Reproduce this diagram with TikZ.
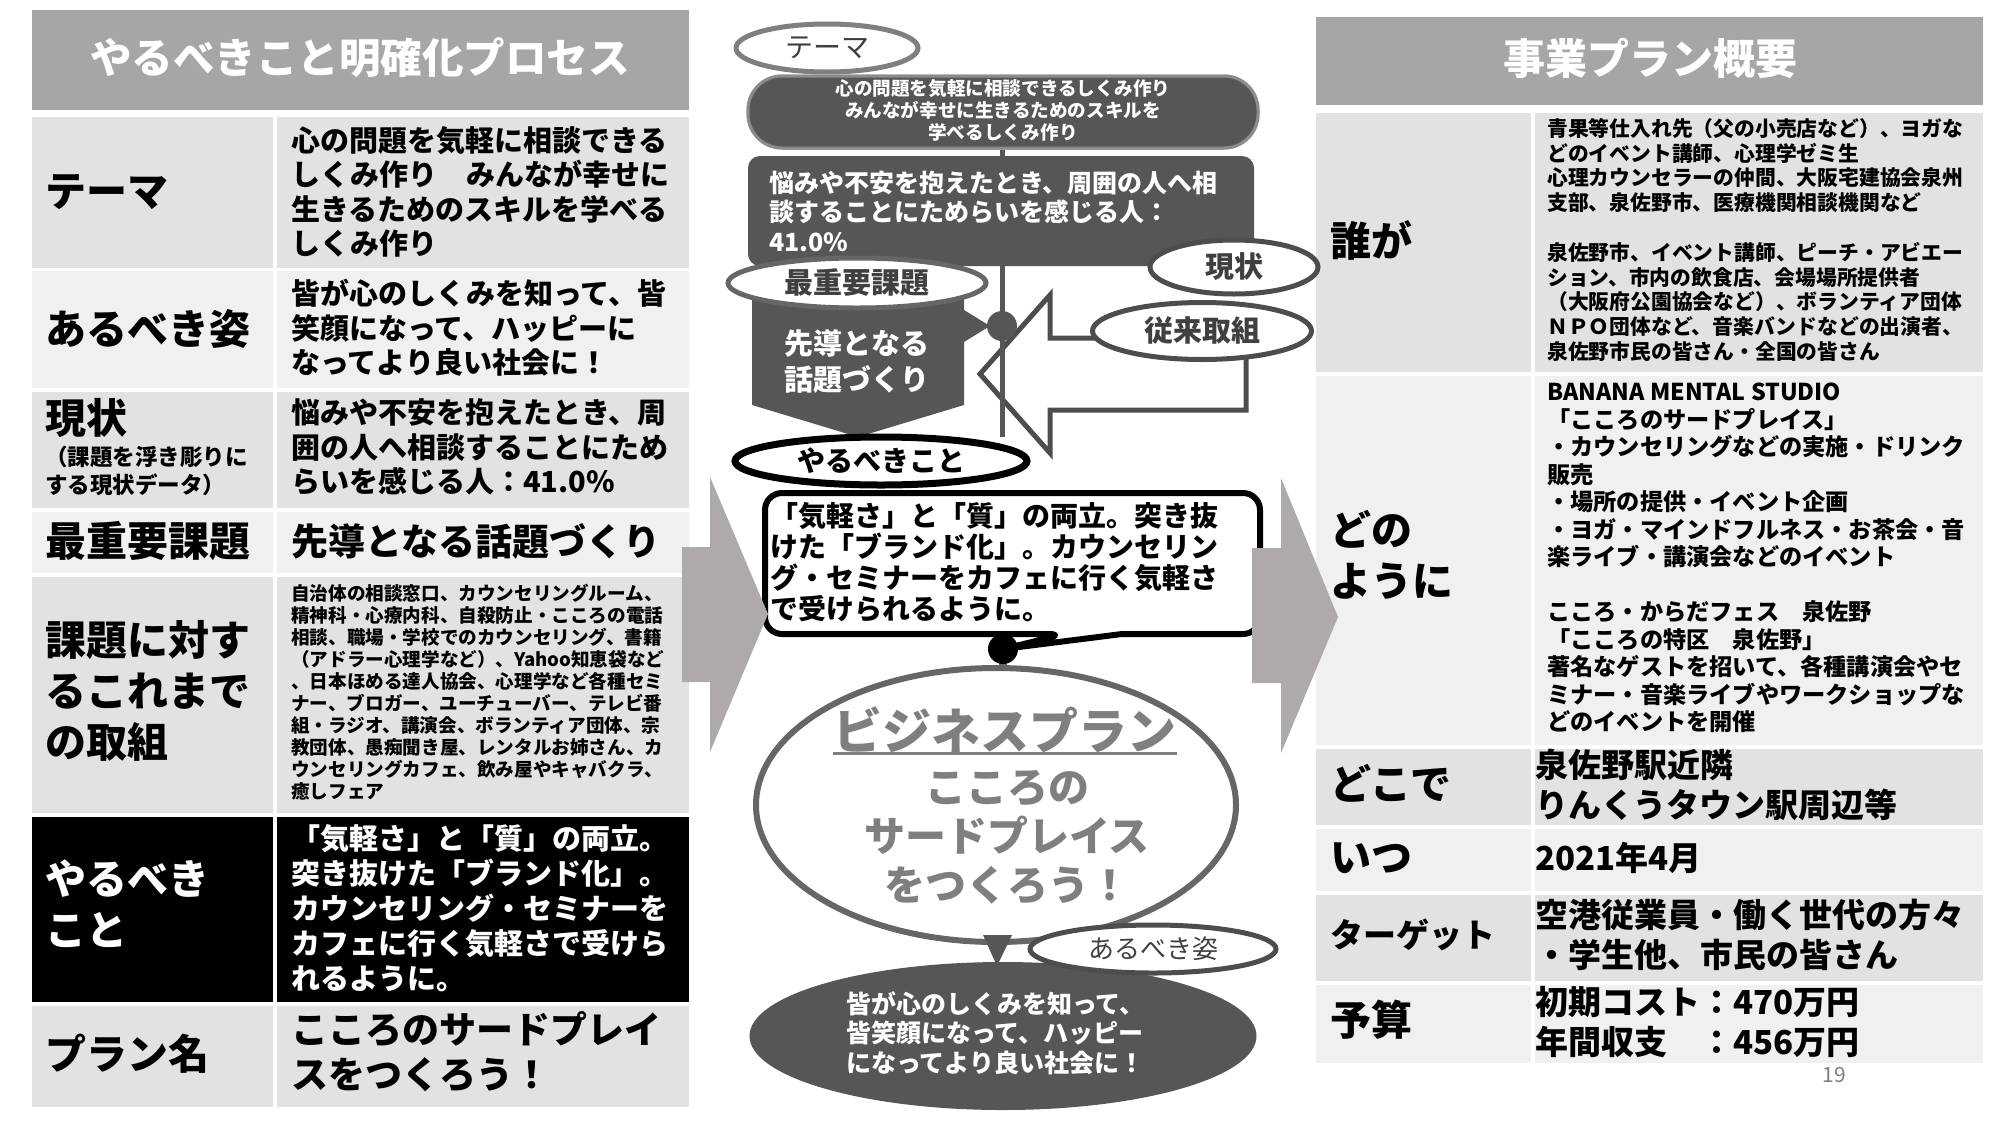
\documentclass[tikz,border=0pt]{standalone}
\usepackage{fontspec}
\setmainfont{Noto Sans CJK JP}
\usetikzlibrary{shapes.geometric}
\newcommand\myfs[2]{\fontsize{#1}{#2}\selectfont}
\definecolor{titlegray}{HTML}{A6A6A6}
\definecolor{rowD}{HTML}{E2E2E2}
\definecolor{rowL}{HTML}{F0F0F0}
\definecolor{dark}{HTML}{565656}
\definecolor{arrowgray}{HTML}{AEAAAA}
\definecolor{olA}{HTML}{7F7F7F}
\definecolor{olB}{HTML}{666666}
\definecolor{olC}{HTML}{4D4D4D}
\definecolor{txtA}{HTML}{404040}
\definecolor{txtB}{HTML}{7F7F7F}
\definecolor{pillborder}{HTML}{8C8C8C}
\begin{document}
\begin{tikzpicture}[x=1pt,y=-1pt,
  lab/.style={anchor=west, inner sep=0, align=left, font=\bfseries\myfs{41}{51}},
  val/.style={anchor=west, inner sep=0, align=left, font=\bfseries\myfs{29}{34.5}},
  ttl/.style={inner sep=0, text=white, font=\bfseries\myfs{42}{50}},
  ell/.style={ellipse, inner sep=0, fill=white, line width=5},
  etext/.style={font=\bfseries\myfs{29}{32}}
]
\useasboundingbox (0,0) rectangle (2000,1125);
\fill[white] (0,0) rectangle (2000,1125);

% ---------------- left table ----------------
\fill[titlegray] (32,10) rectangle (689,110);
\node[ttl, font=\bfseries\myfs{41.5}{50}] (ltitle) at (360,58) {やるべきこと明確化プロセス};
\foreach \ya/\yb/\c in {117/268/rowD, 271/388/rowL, 392/508/rowD, 512/573/rowL, 577/813/rowD, 817/1002/black, 1006/1107/rowD}{
  \fill[\c] (32,\ya) rectangle (273,\yb);
  \fill[\c] (277,\ya) rectangle (689,\yb);
}
\node[lab] (l1) at (45,192) {テーマ};
\node[val] (v1) at (291,192) {心の問題を気軽に相談できる\\しくみ作り　みんなが幸せに\\生きるためのスキルを学べる\\しくみ作り};
\node[lab] (l2) at (45,329) {あるべき姿};
\node[val] (v2) at (291,328) {皆が心のしくみを知って、皆\\笑顔になって、ハッピーに\\なってより良い社会に！};
\node[lab] (l3) at (45,418) {現状};
\node[anchor=west, inner sep=0, align=left, font=\bfseries\myfs{22.5}{28}] (l3b) at (45,471) {（課題を浮き彫りに\\する現状データ）};
\node[val] (v3) at (291,447) {悩みや不安を抱えたとき、周\\囲の人へ相談することにため\\らいを感じる人：41.0\%};
\node[lab] (l4) at (45,541) {最重要課題};
\node[val, font=\bfseries\myfs{37}{44}] (v4) at (291,541) {先導となる話題づくり};
\node[lab] (l5) at (45,691) {課題に対す\\るこれまで\\の取組};
\node[val, font=\bfseries\myfs{18.6}{22}] (v5) at (291,692) {自治体の相談窓口、カウンセリングルーム、\\精神科・心療内科、自殺防止・こころの電話\\相談、職場・学校でのカウンセリング、書籍\\（アドラー心理学など）、Yahoo知恵袋など\\、日本ほめる達人協会、心理学など各種セミ\\ナー、ブロガー、ユーチューバー、テレビ番\\組・ラジオ、講演会、ボランティア団体、宗\\教団体、愚痴聞き屋、レンタルお姉さん、カ\\ウンセリングカフェ、飲み屋やキャバクラ、\\癒しフェア};
\node[lab, text=white] (l6) at (45,904) {やるべき\\こと};
\node[val, text=white, font=\bfseries\myfs{29}{35}] (v6) at (291,908) {「気軽さ」と「質」の両立。\\突き抜けた「ブランド化」。\\カウンセリング・セミナーを\\カフェに行く気軽さで受けら\\れるように。};
\node[lab] (l7) at (45,1054) {プラン名};
\node[val, font=\bfseries\myfs{37}{45}] (v7) at (291,1052) {こころのサードプレイ\\スをつくろう！};

% ---------------- right table ----------------
\fill[titlegray] (1316,17) rectangle (1983,105);
\node[ttl] (rtitle) at (1650,58) {事業プラン概要};
\foreach \ya/\yb/\c in {113/372/rowD, 376/745/rowL, 749/825/rowD, 829/891/rowL, 895/981/rowD, 985/1063/rowL}{
  \fill[\c] (1316,\ya) rectangle (1531,\yb);
  \fill[\c] (1535,\ya) rectangle (1983,\yb);
}
\node[lab] (r1) at (1330,240) {誰が};
\node[val, font=\bfseries\myfs{20.8}{24.8}] (rv1) at (1547,240) {青果等仕入れ先（父の小売店など）、ヨガな\\どのイベント講師、心理学ゼミ生\\心理カウンセラーの仲間、大阪宅建協会泉州\\支部、泉佐野市、医療機関相談機関など\\\mbox{}\\泉佐野市、イベント講師、ピーチ・アビエー\\ション、市内の飲食店、会場場所提供者\\（大阪府公園協会など）、ボランティア団体\\ＮＰＯ団体など、音楽バンドなどの出演者、\\泉佐野市民の皆さん・全国の皆さん};
\node[lab] (r2) at (1330,555) {どの\\ように};
\node[val, font=\bfseries\myfs{23.2}{27.5}] (rv2) at (1547,558) {BANANA MENTAL STUDIO\\「こころのサードプレイス」\\・カウンセリングなどの実施・ドリンク\\販売\\・場所の提供・イベント企画\\・ヨガ・マインドフルネス・お茶会・音\\楽ライブ・講演会などのイベント\\\mbox{}\\こころ・からだフェス　泉佐野\\「こころの特区　泉佐野」\\著名なゲストを招いて、各種講演会やセ\\ミナー・音楽ライブやワークショップな\\どのイベントを開催};
\node[lab] (r3) at (1330,783) {どこで};
\node[val, font=\bfseries\myfs{33}{40}] (rv3) at (1535,785) {泉佐野駅近隣\\りんくうタウン駅周辺等};
\node[lab] (r4) at (1330,858) {いつ};
\node[val, font=\bfseries\myfs{33}{40}] (rv4) at (1535,858) {2021年4月};
\node[lab, font=\bfseries\myfs{33}{40}] (r5) at (1330,935) {ターゲット};
\node[val, font=\bfseries\myfs{33}{40}] (rv5) at (1535,935) {空港従業員・働く世代の方々\\・学生他、市民の皆さん};
\node[lab] (r6) at (1330,1020) {予算};
\node[val, font=\bfseries\myfs{33}{40}] (rv6) at (1535,1022) {初期コスト：470万円\\年間収支　：456万円};
\node[inner sep=0, text=olA, font=\myfs{21}{24}] (pg) at (1834,1075) {19};

% ---------------- center flow ----------------
\node[ell, draw=olA, minimum width=182, minimum height=48, text=txtA, font=\myfs{28}{30}] (eth) at (827,48) {テーマ};
% pentagon with notch
\fill[dark] (752,285) -- (964,285) -- (964,310) -- (990,326) -- (964,342) -- (964,405) -- (858,437) -- (752,405) -- cycle;
% white outlined arrow
\draw[line width=5, draw=olC, fill=white, line join=miter] (980,374) -- (1050,295) -- (1050,338) -- (1246,338) -- (1246,410) -- (1050,410) -- (1050,453) -- cycle;
% vertical flow line
\coordinate (jc) at (1002,326);
\node[rectangle, rounded corners=34, fill=dark, draw=pillborder, line width=3, minimum width=510, minimum height=72] (pill) at (1003,112) {};
\node[ellipse, minimum width=292, minimum height=48, inner sep=0] (yarupos) at (881,461) {};
\draw[dark, line width=5] (pill.south -| jc) -- (jc |- yarupos.north);
\node[rectangle, rounded corners=34, fill=dark, draw=pillborder, line width=3, minimum width=510, minimum height=72] (pill2) at (1003,112) {};
\node[align=center, text=white, inner sep=0, font=\bfseries\myfs{18.6}{22}] (pillt) at (1003,110) {心の問題を気軽に相談できるしくみ作り\\みんなが幸せに生きるためのスキルを\\学べるしくみ作り};
\node[rectangle, rounded corners=12, fill=dark, minimum width=506, minimum height=110] (nayami) at (1001,211) {};
\node[anchor=west, align=left, text=white, inner sep=0, font=\bfseries\myfs{25}{29.5}] (nayamit) at (769,211) {悩みや不安を抱えたとき、周囲の人へ相\\談することにためらいを感じる人：\\41.0\%};
\node[align=center, text=white, inner sep=0, font=\bfseries\myfs{29}{36}] (sendo) at (857,362) {先導となる\\話題づくり};
\node[circle, fill=dark, minimum size=30, inner sep=0] (jn) at (jc) {};
\node[ell, draw=olB, minimum width=258, minimum height=50, text=txtA, etext] (esai) at (857,283) {最重要課題};
\node[ell, draw=olC, minimum width=168, minimum height=54, text=txtA, etext] (egen) at (1234,267) {現状};
\node[ell, draw=olC, minimum width=219, minimum height=57, text=txtA, etext] (ejur) at (1202,331) {従来取組};
\node[ell, draw=black, line width=7, minimum width=292, minimum height=48, font=\bfseries\myfs{28}{30}] (yaru) at (881,461) {やるべきこと};

% business plan ellipse and goal
\node[ell, draw=olB, line width=6, minimum width=480, minimum height=274] (bigell) at (996,805) {};
\node[inner sep=0, text=txtB, font=\bfseries\myfs{49}{52}] (bp) at (1005,730) {ビジネスプラン};
\draw[txtB, line width=3] (bp.south west) -- (bp.south east);
\node[align=center, inner sep=0, text=txtB, font=\bfseries\myfs{41}{49}] (bpt) at (1007,837) {こころの\\サードプレイス\\をつくろう！};
\node[ellipse, fill=dark, minimum width=507, minimum height=148, inner sep=0] (goal) at (1003,1036) {};
\fill[dark] (983,935) -- (1012,935) -- (997,966) -- cycle;
\node[anchor=west, align=left, text=white, inner sep=0, font=\bfseries\myfs{25}{29.5}] (goalt) at (846,1033) {皆が心のしくみを知って、\\皆笑顔になって、ハッピー\\になってより良い社会に！};
\node[ell, draw=olC, minimum width=246, minimum height=48, text=txtA, font=\myfs{26}{30}] (earu) at (1153,949) {あるべき姿};

% speech bubble
\draw[line width=6, fill=white, line join=round] (1065,634) -- (1003,649) -- (1122,634) [rounded corners=17] -- (1260,634) -- (1260,493) -- (765,493) -- (765,634) -- cycle;
\node[anchor=west, align=left, inner sep=0, font=\bfseries\myfs{28}{31}] (bub) at (770,562) {「気軽さ」と「質」の両立。突き抜\\けた「ブランド化」。カウンセリン\\グ・セミナーをカフェに行く気軽さ\\で受けられるように。};
\node[circle, minimum size=30, inner sep=0] (dotpos) at (1003,649) {};
\draw[olB, line width=8] (dotpos.center) -- (dotpos.center |- bigell.north);
\node[circle, fill=black, minimum size=30, inner sep=0] (dot) at (1003,649) {};

% big gray arrows
\fill[arrowgray] (682,547) -- (710,547) -- (710,477) -- (768,614) -- (710,752) -- (710,682) -- (682,682) -- cycle;
\fill[arrowgray] (1252,548) -- (1281,548) -- (1281,478) -- (1338,617) -- (1281,753) -- (1281,683) -- (1252,683) -- cycle;
\end{tikzpicture}
\end{document}
